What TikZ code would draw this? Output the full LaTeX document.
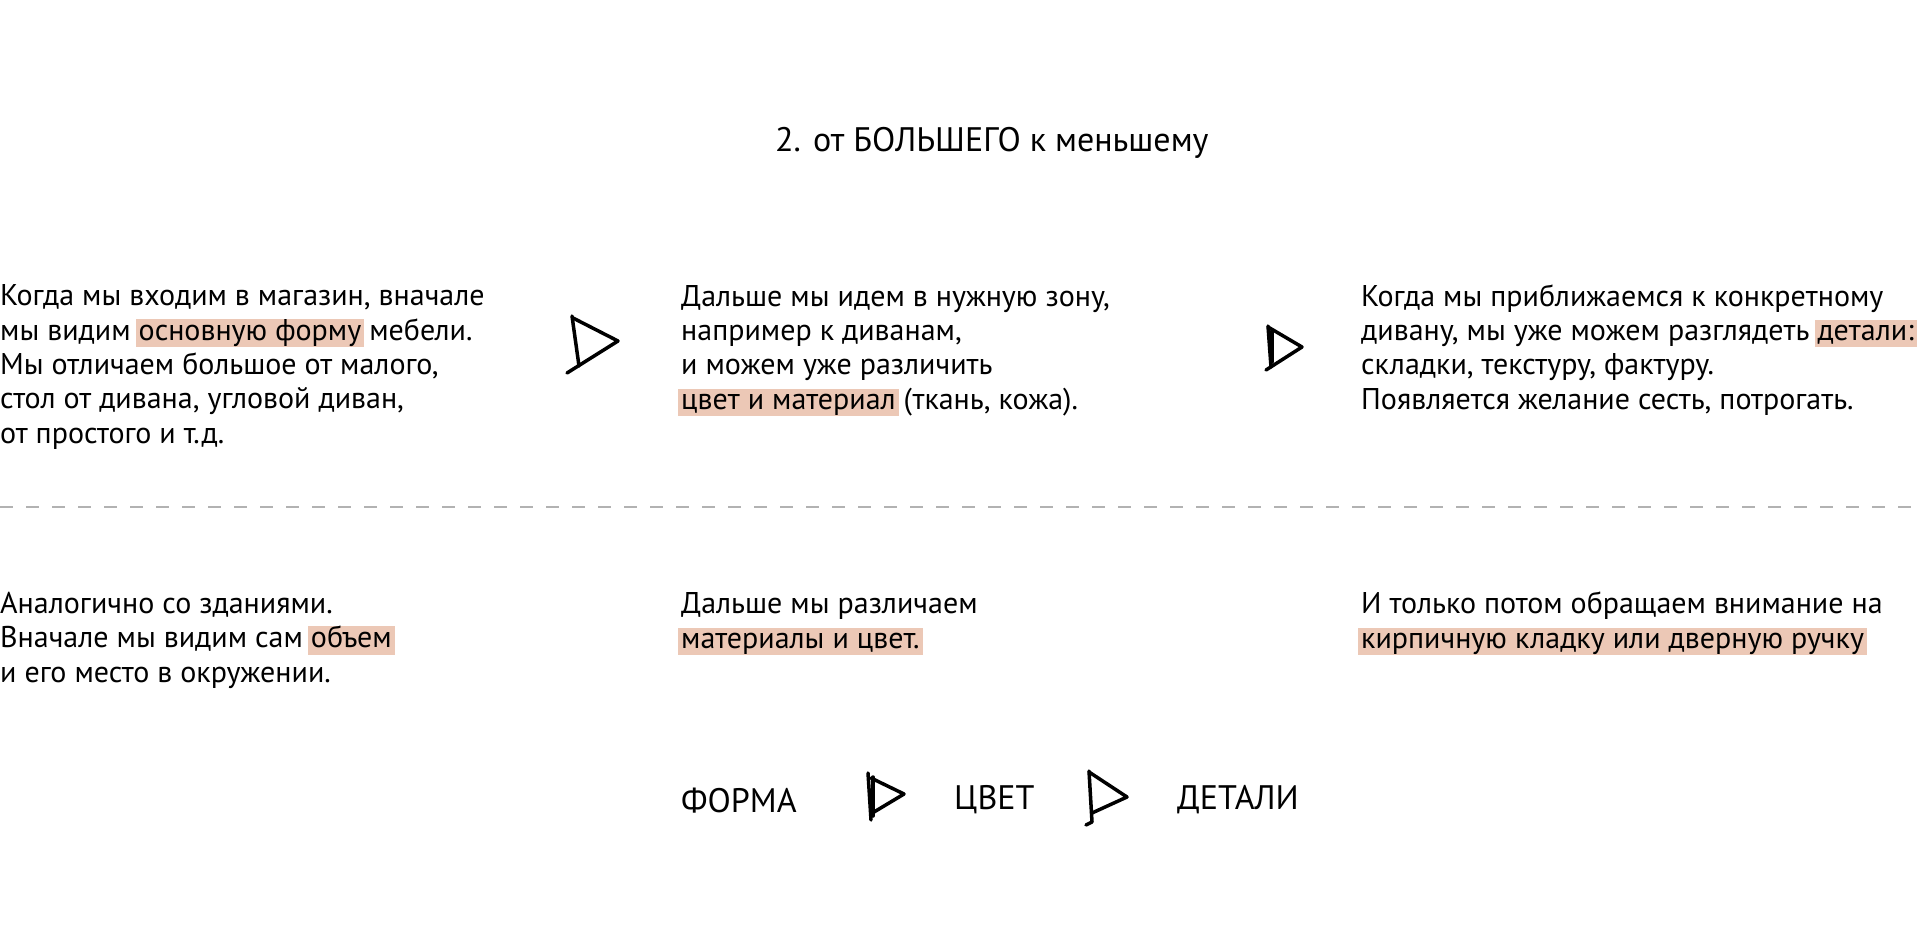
\documentclass[tikz,border=0pt]{standalone}
\usepackage{fontspec}
\setmainfont{PT Sans}
\definecolor{hlpeach}{RGB}{236,200,182}
\newcommand{\hl}[1]{{\setlength{\fboxsep}{0pt}\kern-3pt\colorbox{hlpeach}{\kern3pt\rule[-7pt]{0pt}{27pt}#1\kern3pt}\kern-3pt}}

\begin{document}
\begin{tikzpicture}[x=1pt,y=-1pt,
    txt/.style={anchor=base west,align=left,inner sep=0pt,font=\fontsize{30}{34.3}\selectfont},
    head/.style={anchor=base west,inner sep=0pt,font=\fontsize{34}{40}\selectfont},
    big/.style={anchor=base west,inner sep=0pt,font=\fontsize{34}{40}\selectfont},
    pen/.style={line width=3.5pt,line cap=round,line join=round}]
\useasboundingbox (0,0) rectangle (1920,945);

\path (775,151) node[head] (title) {2. от БОЛЬШЕГО к меньшему};

\path (0,443) node[txt] (shop1) {Когда мы входим в магазин, вначале\\
мы видим \hl{основную форму} мебели.\\
Мы отличаем большое от малого,\\
стол от дивана, угловой диван,\\
от простого и т.д.};
\path (681,409) node[txt] (shop2) {Дальше мы идем в нужную зону,\\
например к диванам,\\
и можем уже различить\\
\hl{цвет и материал} (ткань, кожа).};
\path (1361,409) node[txt] (shop3) {Когда мы приближаемся к конкретному\\
дивану, мы уже можем разглядеть \hl{детали:}\\
складки, текстуру, фактуру.\\
Появляется желание сесть, потрогать.};

\draw[pen] (572,316) -- (579,366);
\draw[pen] (573,318) -- (618,341) -- (567,373);
\draw[pen] (1268,326) -- (1271,367);
\draw[pen] (1272,331) -- (1272,362);
\draw[pen] (1268,327) -- (1302,347) -- (1266,370);

\draw[gray!60,line width=2pt,dash pattern=on 13pt off 13pt] (0,507) -- (1920,507);

\path (0,682) node[txt] (house1) {Аналогично со зданиями.\\
Вначале мы видим сам \hl{объем}\\
и его место в окружении.};
\path (681,648) node[txt] (house2) {Дальше мы различаем\\
\hl{материалы и цвет.}};
\path (1361,648) node[txt] (house3) {И только потом обращаем внимание на\\
\hl{кирпичную кладку или дверную ручку}};

\path (681,812) node[big] (forma) {ФОРМА};
\path (954,809) node[big] (cvet) {ЦВЕТ};
\path (1177,809) node[big] (detali) {ДЕТАЛИ};

\draw[pen] (868,773) -- (871,820);
\draw[pen] (873,777) -- (873,816);
\draw[pen] (871,778) -- (904,794) -- (874,812);
\draw[pen] (1089,771) -- (1092,822) -- (1086,825);
\draw[pen] (1089,772) -- (1127,797) -- (1092,813);
\end{tikzpicture}
\end{document}
